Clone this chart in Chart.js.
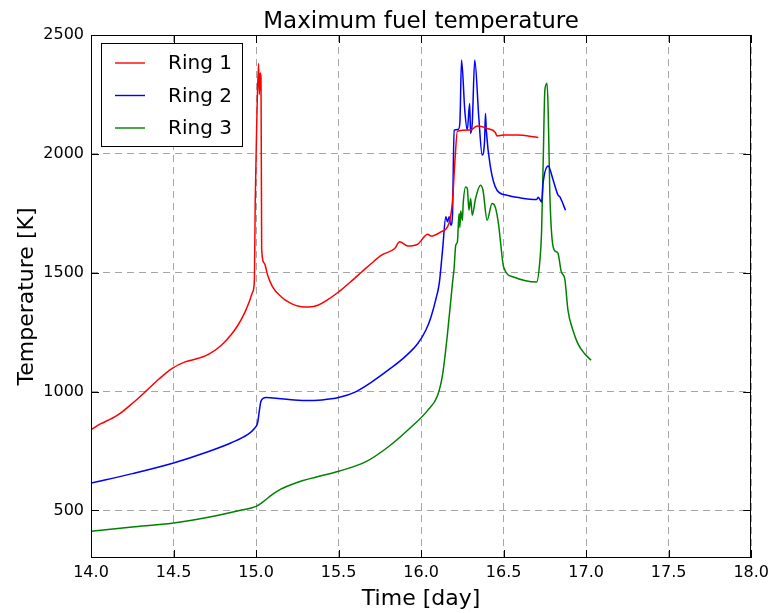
<!DOCTYPE html>
<html>
<head>
<meta charset="utf-8">
<script src="https://cdn.jsdelivr.net/npm/chart.js@4/dist/chart.umd.min.js"></script>
<style>
  html, body { margin: 0; padding: 0; background: #ffffff; }
  #wrap { width: 774px; height: 613px; position: relative; }
</style>
</head>
<body>
<div id="wrap"><canvas id="c" width="774" height="613"></canvas></div>
<script>
// Tick positions
const xTicks = [14.0, 14.5, 15.0, 15.5, 16.0, 16.5, 17.0, 17.5, 18.0];
const yTicks = [500, 1000, 1500, 2000, 2500];

// Series labels and colours
const seriesLabels = ['Ring 1', 'Ring 2', 'Ring 3'];
const seriesColors = ['#ff0000', '#0000ff', '#008000'];

// Ring 1: time [day] and maximum fuel temperature [K]
const ring1Time = [14.0, 14.06, 14.12, 14.17, 14.25, 14.33, 14.41, 14.49, 14.57, 14.65, 14.72, 14.79, 14.85, 14.89,
  14.93, 14.96, 14.98, 14.99, 14.995, 15.005, 15.015, 15.02, 15.025, 15.03, 15.034, 15.05, 15.07, 15.1, 15.154,
  15.2, 15.275, 15.32, 15.375, 15.43, 15.5, 15.57, 15.64, 15.7, 15.76, 15.84, 15.87, 15.92, 15.98,
  16.04, 16.06, 16.12, 16.17, 16.19, 16.205, 16.22, 16.3, 16.34, 16.4, 16.45, 16.46, 16.5, 16.58, 16.71];
const ring1Temp = [840, 865, 885, 905, 950, 1000, 1052, 1097, 1125, 1140, 1160, 1195, 1240, 1279,
  1330, 1380, 1420, 1470, 1800, 2150, 2380, 2250, 2340, 2320, 1600, 1540, 1490, 1440, 1398,
  1375, 1357, 1356, 1363, 1385, 1419, 1460, 1503, 1540, 1574, 1602, 1630, 1612, 1620,
  1662, 1654, 1672, 1710, 1800, 1970, 2095, 2100, 2117, 2107, 2090, 2075, 2079, 2079, 2069];

// Ring 2
const ring2Time = [14.0, 14.25, 14.5, 14.7, 14.85, 14.95, 14.99, 15.01, 15.02, 15.03, 15.06, 15.15,
  15.3, 15.4, 15.5, 15.6, 15.7, 15.8, 15.9, 15.98, 16.03, 16.06, 16.09, 16.11, 16.13, 16.15,
  16.16, 16.17, 16.18, 16.19, 16.2, 16.225, 16.235, 16.245, 16.265, 16.28, 16.294, 16.3, 16.31,
  16.325, 16.35, 16.37, 16.385, 16.39, 16.395, 16.42, 16.46, 16.52, 16.6, 16.7, 16.71, 16.73,
  16.74, 16.77, 16.8, 16.83, 16.84, 16.875];
const ring2Temp = [615, 655, 700, 745, 785, 820, 845, 870, 920, 960, 975, 970,
  962, 965, 975, 998, 1040, 1090, 1145, 1202, 1260, 1314, 1390, 1455, 1595, 1735,
  1714, 1735, 1700, 1740, 2100, 2103, 2130, 2395, 2180, 2100, 2212, 2086, 2130,
  2395, 2150, 1995, 2060, 2170, 2100, 1945, 1847, 1826, 1815, 1808, 1817, 1798,
  1882, 1949, 1890, 1826, 1820, 1763];

// Ring 3
const ring3Time = [14.0, 14.25, 14.5, 14.75, 14.9, 15.0, 15.04, 15.1, 15.15, 15.2, 15.28, 15.36, 15.5, 15.66, 15.8,
  15.94, 16.04, 16.1, 16.13, 16.16, 16.19, 16.2, 16.21, 16.22, 16.23, 16.235, 16.24, 16.25,
  16.255, 16.27, 16.28, 16.29, 16.3, 16.31, 16.33, 16.36, 16.375, 16.4, 16.43, 16.45, 16.47,
  16.48, 16.5, 16.56, 16.7, 16.72, 16.73, 16.74, 16.75, 16.763, 16.77, 16.78, 16.8, 16.82,
  16.83, 16.85, 16.87, 16.89, 16.92, 16.95, 16.99, 17.03];
const ring3Temp = [413, 430, 447, 477, 500, 517, 535, 568, 590, 605, 625, 640, 665, 703, 767,
  851, 921, 984, 1070, 1244, 1455, 1520, 1616, 1630, 1749, 1690, 1760, 1720,
  1790, 1861, 1854, 1763, 1812, 1742, 1812, 1868, 1847, 1721, 1791, 1775, 1700,
  1637, 1524, 1482, 1461, 1553, 1672, 1974, 2268, 2297, 2184, 1833, 1609, 1588,
  1581, 1503, 1476, 1342, 1258, 1202, 1160, 1132];

const seriesTimes = [ring1Time, ring2Time, ring3Time];
const seriesTemps = [ring1Temp, ring2Temp, ring3Temp];

const FONT = '"DejaVu Sans", "Liberation Sans", sans-serif';

// Title, frame, inward ticks, axis titles and legend box drawn on top of the plot
const decorations = {
  id: 'decorations',
  afterDraw(chart) {
    const ctx = chart.ctx;
    const a = chart.chartArea;
    const xs = chart.scales.x, ys = chart.scales.y;
    ctx.save();

    // frame
    ctx.strokeStyle = '#000000';
    ctx.lineWidth = 1;
    ctx.setLineDash([]);
    ctx.strokeRect(Math.round(a.left) + 0.5, Math.round(a.top) + 0.5,
      Math.round(a.right - a.left) - 1, Math.round(a.bottom - a.top) - 1);

    // inward tick marks on all four sides
    ctx.beginPath();
    xTicks.forEach(v => {
      const px = Math.round(xs.getPixelForValue(v)) + 0.5;
      ctx.moveTo(px, a.bottom); ctx.lineTo(px, a.bottom - 8);
      ctx.moveTo(px, a.top); ctx.lineTo(px, a.top + 8);
    });
    yTicks.forEach(v => {
      const py = Math.round(ys.getPixelForValue(v)) + 0.5;
      ctx.moveTo(a.left, py); ctx.lineTo(a.left + 8, py);
      ctx.moveTo(a.right, py); ctx.lineTo(a.right - 8, py);
    });
    ctx.stroke();

    ctx.fillStyle = '#000000';
    // chart title
    ctx.font = '23px ' + FONT;
    ctx.textAlign = 'center';
    ctx.textBaseline = 'alphabetic';
    ctx.fillText('Maximum fuel temperature', (a.left + a.right) / 2, 28);

    // axis titles
    ctx.font = '22px ' + FONT;
    ctx.fillText('Time [day]', (a.left + a.right) / 2, 605);
    ctx.save();
    ctx.translate(33, (a.top + a.bottom) / 2);
    ctx.rotate(-Math.PI / 2);
    ctx.fillText('Temperature [K]', 0, 0);
    ctx.restore();

    // legend
    const lx = a.left + 10, ly = a.top + 8, lw = 141, lh = 103;
    ctx.fillStyle = '#ffffff';
    ctx.fillRect(lx, ly, lw, lh);
    ctx.strokeStyle = '#000000';
    ctx.lineWidth = 1;
    ctx.strokeRect(lx + 0.5, ly + 0.5, lw, lh);
    ctx.font = '20px ' + FONT;
    ctx.textAlign = 'left';
    ctx.textBaseline = 'middle';
    chart.data.datasets.forEach((ds, i) => {
      const yy = ly + 20 + i * 32.5;
      ctx.strokeStyle = ds.borderColor;
      ctx.lineWidth = 1.4;
      ctx.beginPath();
      ctx.moveTo(lx + 14, yy); ctx.lineTo(lx + 44, yy);
      ctx.stroke();
      ctx.fillStyle = '#000000';
      ctx.fillText(ds.label, lx + 67, yy + 1);
    });

    ctx.restore();
  }
};

const datasets = seriesLabels.map((label, i) => ({
  label: label,
  data: seriesTimes[i].map((t, k) => ({ x: t, y: seriesTemps[i][k] })),
  borderColor: seriesColors[i],
  backgroundColor: seriesColors[i],
  borderWidth: 1.5,
  pointRadius: 0,
  cubicInterpolationMode: 'monotone',
  fill: false
}));

new Chart(document.getElementById('c'), {
  type: 'line',
  data: { datasets: datasets },
  options: {
    responsive: false,
    animation: false,
    devicePixelRatio: 1,
    layout: { padding: { top: 35, right: 18, left: 0, bottom: 0 } },
    plugins: {
      legend: { display: false },
      title: { display: false },
      tooltip: { enabled: false }
    },
    scales: {
      x: {
        type: 'linear',
        min: 14, max: 18,
        afterFit(scale) { scale.height = 55; },
        afterBuildTicks(scale) { scale.ticks = xTicks.map(v => ({ value: v })); },
        ticks: {
          color: '#000000',
          font: { family: FONT, size: 16 },
          padding: 5,
          maxRotation: 0,
          autoSkip: false,
          callback: v => Number(v).toFixed(1)
        },
        grid: { color: 'rgba(0,0,0,0.35)', lineWidth: 1, drawTicks: false },
        border: { display: false, dash: [7, 5] }
      },
      y: {
        type: 'linear',
        min: 300, max: 2500,
        afterFit(scale) { scale.width = 91; },
        afterBuildTicks(scale) { scale.ticks = yTicks.map(v => ({ value: v })); },
        ticks: {
          color: '#000000',
          font: { family: FONT, size: 16 },
          padding: 7,
          autoSkip: false,
          callback: v => String(v)
        },
        grid: { color: 'rgba(0,0,0,0.35)', lineWidth: 1, drawTicks: false },
        border: { display: false, dash: [7, 5] }
      }
    }
  },
  plugins: [decorations]
});
</script>
</body>
</html>
